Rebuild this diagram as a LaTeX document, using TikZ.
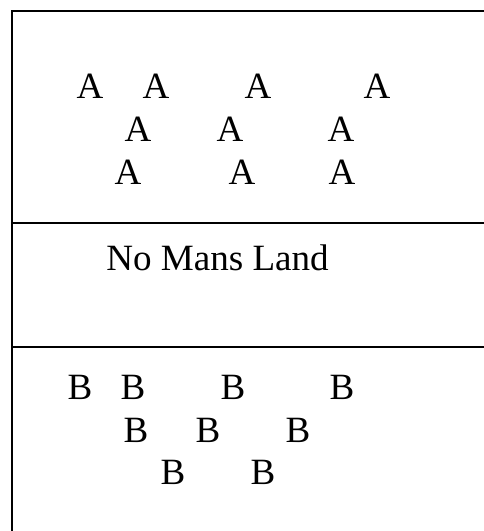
\documentclass[tikz,border=0pt]{standalone}
\usepackage{fontspec}
\setmainfont{Liberation Serif}
\begin{document}
\begin{tikzpicture}[x=0.75pt,y=-0.75pt,
  rule/.style={line width=1.5pt,line cap=rect},
  lbl/.style={inner sep=0pt,anchor=base,font=\fontsize{27.8pt}{30pt}\selectfont}]
\useasboundingbox (0,0) rectangle (483,531);
% frame and dividers
\draw[rule] (490,11.5) -- (11.5,11.5) -- (11.5,540);
\draw[rule] (11.5,223) -- (490,223);
\draw[rule] (11.5,347) -- (490,347);
% A rows
\node[lbl] (a1) at (90,98.5) {A};
\node[lbl] (a2) at (156,98.5) {A};
\node[lbl] (a3) at (258,98.5) {A};
\node[lbl] (a4) at (377,98.5) {A};
\node[lbl] (a5) at (138,142) {A};
\node[lbl] (a6) at (230,142) {A};
\node[lbl] (a7) at (341,142) {A};
\node[lbl] (a8) at (128,184.5) {A};
\node[lbl] (a9) at (242,184.5) {A};
\node[lbl] (a10) at (342,184.5) {A};
% no mans land
\node[lbl] (nml) at (217.5,270) {No Mans Land};
% B rows
\node[lbl] (b1) at (80,399) {B};
\node[lbl] (b2) at (133,399) {B};
\node[lbl] (b3) at (233,399) {B};
\node[lbl] (b4) at (342,399) {B};
\node[lbl] (b5) at (136,442) {B};
\node[lbl] (b6) at (208,442) {B};
\node[lbl] (b7) at (298,442) {B};
\node[lbl] (b8) at (173,484.5) {B};
\node[lbl] (b9) at (263,484.5) {B};
\end{tikzpicture}
\end{document}
